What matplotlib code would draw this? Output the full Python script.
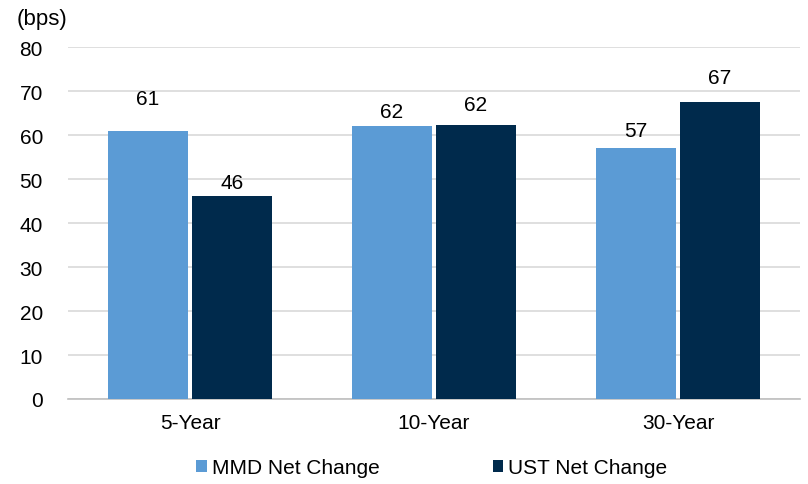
import matplotlib
matplotlib.use("Agg")
import matplotlib.pyplot as plt
import numpy as np

plt.rcParams['font.family'] = ['Liberation Sans', 'DejaVu Sans']

categories = ["5-Year", "10-Year", "30-Year"]
mmd = [61.0, 62.0, 57.0]
ust = [46.1, 62.3, 67.4]
series_names = ["MMD Net Change", "UST Net Change"]

# label gap above each bar (points), as placed in the original
mmd_label_gap = [16, 4, 6]
ust_label_gap = [3, 8, 11]

MMD_COLOR = "#5B9BD5"
UST_COLOR = "#002A4C"
FS = 15


def main():
    fig = plt.figure(figsize=(8.08, 4.85), dpi=100)
    ax = fig.add_axes([68 / 808, 85 / 485, 732 / 808, 352 / 485])

    x = np.arange(len(categories))
    w = 0.328
    off = 0.172
    b1 = ax.bar(x - off, mmd, w, color=MMD_COLOR, label=series_names[0], zorder=3)
    b2 = ax.bar(x + off, ust, w, color=UST_COLOR, label=series_names[1], zorder=3)
    for bars, vals, gaps in ((b1, mmd, mmd_label_gap), (b2, ust, ust_label_gap)):
        for r, v, g in zip(bars, vals, gaps):
            ax.annotate(f"{v:.0f}", (r.get_x() + r.get_width() / 2, v),
                        textcoords="offset points", xytext=(0, g),
                        ha="center", va="bottom", fontsize=FS, color="#000000")

    ax.set_xlim(-0.5, 2.5)
    ax.set_ylim(0, 80)
    ax.set_yticks(range(0, 81, 10))
    ax.set_xticks(x)
    ax.set_xticklabels(categories)
    ax.tick_params(axis="both", length=0, labelsize=FS, colors="#000000")
    ax.tick_params(axis="y", pad=18)
    ax.tick_params(axis="x", pad=10)
    ax.grid(axis="y", color="#D9D9D9", lw=1.2, zorder=0)
    for s in ("top", "right", "left"):
        ax.spines[s].set_visible(False)
    ax.spines["bottom"].set_color("#BFBFBF")
    ax.spines["bottom"].set_linewidth(1.2)

    fig.text(17 / 808, 1 - 19 / 485, "(bps)", fontsize=16, va="center", ha="left")

    fig.legend(handles=[b1, b2], loc="center", bbox_to_anchor=(432 / 808, 1 - 469 / 485),
               ncol=2, frameon=False, fontsize=FS, handlelength=0.5, handleheight=0.5,
               handletextpad=0.26, columnspacing=5.4)

    fig.savefig("out.png", dpi=100)


if __name__ == "__main__":
    main()
